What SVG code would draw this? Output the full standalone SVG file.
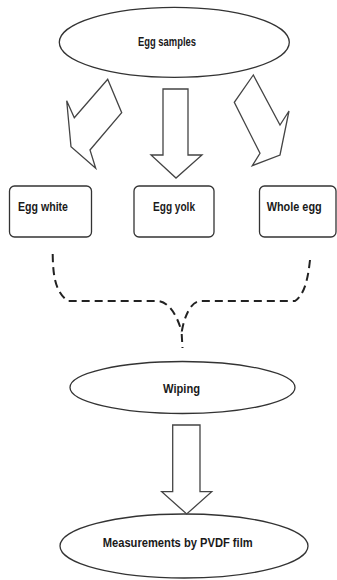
<svg xmlns="http://www.w3.org/2000/svg" width="337" height="580" viewBox="0 0 337 580">
<style>
.sh{fill:#fff;stroke:#333;stroke-width:1.3}
.ar{fill:#fff;stroke:#444;stroke-width:1.3;stroke-linejoin:miter}
.tx{font-family:"Liberation Sans",Arial,sans-serif;font-size:12px;fill:#1a1a1a;font-weight:bold}
.dash{fill:none;stroke:#222;stroke-width:2;stroke-dasharray:8 5}
</style>
<rect width="337" height="580" fill="#fff"/>
<g id="egg-samples">
<ellipse class="sh" cx="174.3" cy="42.3" rx="115" ry="35"/>
<text class="tx" x="138" y="46" textLength="58" lengthAdjust="spacingAndGlyphs">Egg samples</text>
</g>
<g id="egg-white">
<rect class="sh" x="9.5" y="186" width="82" height="51" rx="5"/>
<text class="tx" x="18" y="211" textLength="50" lengthAdjust="spacingAndGlyphs">Egg white</text>
</g>
<g id="egg-yolk">
<rect class="sh" x="134" y="186" width="80" height="51" rx="5"/>
<text class="tx" x="153" y="211" textLength="42" lengthAdjust="spacingAndGlyphs">Egg yolk</text>
</g>
<g id="whole-egg">
<rect class="sh" x="259.5" y="186" width="76.5" height="51" rx="5"/>
<text class="tx" x="266.7" y="211" textLength="55" lengthAdjust="spacingAndGlyphs">Whole egg</text>
</g>
<g id="wiping">
<ellipse class="sh" cx="182.5" cy="387.5" rx="112.5" ry="26"/>
<text class="tx" x="163" y="393" textLength="37" lengthAdjust="spacingAndGlyphs">Wiping</text>
</g>
<g id="measurements">
<ellipse class="sh" cx="184" cy="546" rx="124" ry="32"/>
<text class="tx" x="102.7" y="547" font-size="14" textLength="150" lengthAdjust="spacingAndGlyphs">Measurements by PVDF film</text>
</g>
<g id="connectors">
<polygon class="ar" points="107.7,79.3 121.7,112.7 90,150 95.7,168.3 71,146.7 66.7,100.7 74.3,117.7"/>
<polygon class="ar" points="163,89 188,89 188,155 202,155 176,178 151,155 163,155"/>
<polygon class="ar" points="253.3,75 234.3,102.3 260,153.3 252.3,165.7 280,155 289,111 280,125"/>
<path class="dash" d="M52.7,254 C53,275 55,292 68,301 L158,301 C170,302 178,318 181.7,332"/>
<path class="dash" d="M310,260 C308,278 305,294 295,301 L200,301 C190,302 184,318 181.7,332"/>
<path class="dash" d="M181.7,334 L182.5,348" stroke-dasharray="6 4"/>
<polygon class="ar" points="172.7,425 200,425 200,491.7 211.7,491.7 186.7,514 161.7,491.7 172.7,491.7"/>
</g>
</svg>
